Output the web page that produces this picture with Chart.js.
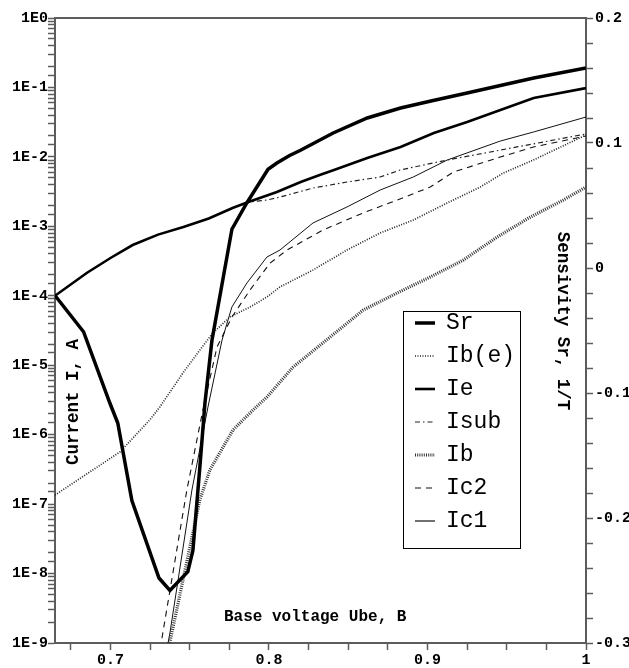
<!DOCTYPE html>
<html><head><meta charset="utf-8">
<script src="https://cdn.jsdelivr.net/npm/chart.js@4/dist/chart.umd.min.js"></script>
<style>html,body{margin:0;padding:0;background:#fff;}</style>
</head><body>
<canvas id="c" width="629" height="668"></canvas>
<script>
// ---- data ----
const srX  = [0.665,0.683,0.6996,0.7046,0.7135,0.7306,0.7375,0.7488,0.752,0.7564,0.7596,0.764,0.7766,0.786,0.7994,0.805,0.813,0.8196,0.8405,0.862,0.883,0.9036,0.925,0.946,0.967,1.0];
const srY  = [-0.022,-0.051,-0.108,-0.124,-0.186,-0.248,-0.258,-0.243,-0.226,-0.159,-0.108,-0.058,0.031,0.052,0.079,0.084,0.090,0.094,0.108,0.120,0.128,0.134,0.140,0.146,0.152,0.160];

const ieX  = [0.665,0.685,0.700,0.714,0.730,0.746,0.762,0.777,0.787,0.805,0.820,0.832,0.841,0.862,0.883,0.904,0.925,0.946,0.967,1.0];
const ieY  = [1.0e-4,2.13e-4,3.5e-4,5.38e-4,7.6e-4,9.77e-4,1.3e-3,1.84e-3,2.24e-3,3.12e-3,4.35e-3,5.48e-3,6.47e-3,9.64e-3,1.39e-2,2.21e-2,3.18e-2,4.73e-2,7.05e-2,9.8e-2];

const isubX = [0.665,0.685,0.700,0.714,0.730,0.746,0.762,0.777,0.787,0.7987,0.8069,0.8278,0.8492,0.8701,0.8827,0.9125,0.9565,1.0];
const isubY = [1.0e-4,2.13e-4,3.5e-4,5.38e-4,7.6e-4,9.77e-4,1.3e-3,1.84e-3,2.24e-3,2.39e-3,2.64e-3,3.56e-3,4.35e-3,5.13e-3,6.47e-3,9.02e-3,1.39e-2,2.14e-2];

const ic1X = [0.7343,0.7375,0.7514,0.7615,0.7704,0.7766,0.7861,0.7987,0.8069,0.8278,0.8492,0.8701,0.891,0.9125,0.9459,0.9668,1.0];
const ic1Y = [5.7e-10,1.39e-9,1.6e-7,2.5e-6,2.31e-5,6.9e-5,1.53e-4,3.61e-4,4.56e-4,1.12e-3,1.90e-3,3.33e-3,5.13e-3,9.02e-3,1.69e-2,2.28e-2,3.75e-2];

const ic2X = [0.7302,0.733,0.7482,0.7583,0.7672,0.7766,0.788,0.8007,0.8114,0.8341,0.8594,0.8809,0.9017,0.9163,0.9459,0.9668,1.0];
const ic2Y = [5.7e-10,1.39e-9,1.6e-7,2.26e-6,1.83e-5,4.94e-5,1.21e-4,2.96e-4,4.56e-4,8.85e-4,1.56e-3,2.39e-3,3.68e-3,6.05e-3,9.95e-3,1.39e-2,2.0e-2];

const ibeX = [0.665,0.7059,0.7248,0.7311,0.7457,0.7564,0.7646,0.7753,0.788,0.7987,0.8069,0.8278,0.8492,0.8701,0.891,0.9124,0.9333,0.9478,0.9668,1.0];
const ibeY = [1.35e-7,5.62e-7,1.63e-6,2.5e-6,7.72e-6,1.66e-5,2.91e-5,4.94e-5,6.89e-5,9.6e-5,1.34e-4,2.35e-4,4.56e-4,8.02e-4,1.23e-3,2.17e-3,3.68e-3,5.86e-3,9.02e-3,2.07e-2];

const ibX  = [0.7349,0.7387,0.7501,0.7564,0.7627,0.7773,0.788,0.7987,0.8152,0.8386,0.8595,0.8809,0.9017,0.9226,0.944,0.9649,0.9857,1.0];
const ibY  = [5.7e-10,1.39e-9,2.41e-8,1.15e-7,3.1e-7,1.17e-6,2.05e-6,3.48e-6,9.4e-6,2.55e-5,6.24e-5,1.10e-4,1.86e-4,3.27e-4,7.02e-4,1.36e-3,2.39e-3,3.68e-3];

// ---- ticks / labels ----
const xTicks = [0.675,0.7,0.725,0.75,0.775,0.8,0.825,0.85,0.875,0.9,0.925,0.95,0.975,1.0];
const xLabelled = [0.7,0.8,0.9,1.0];
const rTicks = [-0.3,-0.28,-0.26,-0.24,-0.22,-0.2,-0.18,-0.16,-0.14,-0.12,-0.1,-0.08,-0.06,-0.04,-0.02,0,0.02,0.04,0.06,0.08,0.1,0.12,0.14,0.16,0.18,0.2];
const rLabelled = [-0.3,-0.2,-0.1,0,0.1,0.2];
const xTitle = 'Base voltage Ube, B';
const yLTitle = 'Current I, A';
const yRTitle = 'Sensivity Sr, 1/T';

const FONT = "'Liberation Mono','DejaVu Sans Mono',monospace";
const AX = '#5c5c5c';

function pts(xs, ys){ return xs.map((x,i)=>({x:x, y:ys[i]})); }

const datasets = [
  {label:'Sr',    data:pts(srX,srY),     yAxisID:'yR', borderColor:'#000', borderWidth:3.5, borderDash:[]},
  {label:'Ib(e)', data:pts(ibeX,ibeY),   yAxisID:'yL', borderColor:'#222', borderWidth:1.7, borderDash:[1,1.5]},
  {label:'Ie',    data:pts(ieX,ieY),     yAxisID:'yL', borderColor:'#000', borderWidth:2.6, borderDash:[]},
  {label:'Isub',  data:pts(isubX,isubY), yAxisID:'yL', borderColor:'#222', borderWidth:1.2, borderDash:[5,3,1.5,3]},
  {label:'Ib',    data:pts(ibX,ibY),     yAxisID:'yL', borderColor:'#333', borderWidth:3.2, borderDash:[1,1.2]},
  {label:'Ic2',   data:pts(ic2X,ic2Y),   yAxisID:'yL', borderColor:'#111', borderWidth:1.1, borderDash:[6,5]},
  {label:'Ic1',   data:pts(ic1X,ic1Y),   yAxisID:'yL', borderColor:'#111', borderWidth:1.0, borderDash:[]}
];
datasets.forEach(d=>{ d.pointRadius=0; d.tension=0; d.fill=false; d.clip=0; });

const decorPlugin = {
  id:'decor',
  afterDraw(chart){
    const c = chart.ctx, a = chart.chartArea;
    c.save();
    // top frame line
    c.strokeStyle = AX; c.lineWidth = 2;
    c.beginPath(); c.moveTo(a.left, a.top); c.lineTo(a.right, a.top); c.stroke();
    // axis titles (inside plot)
    c.fillStyle = '#000';
    c.textBaseline = 'middle';
    c.textAlign = 'left';
    c.font = 'bold 16px ' + FONT;
    c.fillText(xTitle, 224, 617);
    c.font = 'bold 17.5px ' + FONT;
    c.save(); c.translate(74, 402); c.rotate(-Math.PI/2); c.textAlign='center';
    c.fillText(yLTitle, 0, 0); c.restore();
    c.save(); c.translate(562, 321); c.rotate(Math.PI/2); c.textAlign='center';
    c.fillText(yRTitle, 0, 0); c.restore();
    // legend
    const bx = 403.5, by = 311.5, bw = 117, bh = 237;
    c.fillStyle = '#fff'; c.fillRect(bx, by, bw, bh);
    c.strokeStyle = '#000'; c.lineWidth = 1; c.setLineDash([]);
    c.strokeRect(bx, by, bw, bh);
    c.font = '23px ' + FONT; c.fillStyle = '#000'; c.textAlign='left'; c.textBaseline='middle';
    chart.data.datasets.forEach((d,i)=>{
      const y = 323 + i*33;
      c.save();
      c.strokeStyle = d.borderColor; c.lineWidth = Math.max(1.2, d.borderWidth);
      c.setLineDash(d.borderDash || []);
      c.beginPath(); c.moveTo(415, y); c.lineTo(435, y); c.stroke();
      c.restore();
      c.fillText(d.label, 446, y);
    });
    c.restore();
  }
};

new Chart(document.getElementById('c'), {
  type:'line',
  data:{datasets:datasets},
  options:{
    responsive:false, animation:false, devicePixelRatio:1,
    layout:{padding:{top:18,left:0,right:0,bottom:0}},
    plugins:{legend:{display:false}, tooltip:{enabled:false}},
    scales:{
      x:{
        type:'linear', position:'bottom', min:0.665, max:1.0,
        afterBuildTicks:s=>{ s.ticks = xTicks.map(v=>({value:v})); },
        afterFit:s=>{ s.height = 25; },
        grid:{drawOnChartArea:false, tickLength:7, color:AX, tickWidth:1.5},
        border:{color:AX, width:2},
        ticks:{autoSkip:false, maxRotation:0, padding:1, color:'#000',
          font:{family:FONT, size:15, weight:'bold'},
          callback:(v)=>{ const m = xLabelled.find(t=>Math.abs(t-v)<1e-9); return m===undefined ? '' : String(m); }}
      },
      yL:{
        type:'logarithmic', position:'left', min:1e-9, max:1,
        afterFit:s=>{ s.width = 55; },
        grid:{drawOnChartArea:false, tickLength:7, color:AX, tickWidth:1.5},
        border:{color:AX, width:2},
        ticks:{autoSkip:false, padding:0, color:'#000',
          font:{family:FONT, size:15, weight:'bold'},
          callback:(v)=>{ const l = Math.log10(v); const r = Math.round(l); return Math.abs(l-r)<1e-6 ? ('1E'+r) : ''; }}
      },
      yR:{
        type:'linear', position:'right', min:-0.3, max:0.2,
        afterBuildTicks:s=>{ s.ticks = rTicks.map(v=>({value:v})); },
        afterFit:s=>{ s.width = 43; },
        grid:{drawOnChartArea:false, tickLength:7, color:AX, tickWidth:1.5},
        border:{color:AX, width:2},
        ticks:{autoSkip:false, padding:2, color:'#000',
          font:{family:FONT, size:15, weight:'bold'},
          callback:(v)=>{ const m = rLabelled.find(t=>Math.abs(t-v)<1e-9); return m===undefined ? '' : String(m); }}
      }
    }
  },
  plugins:[decorPlugin]
});
</script>
</body></html>
